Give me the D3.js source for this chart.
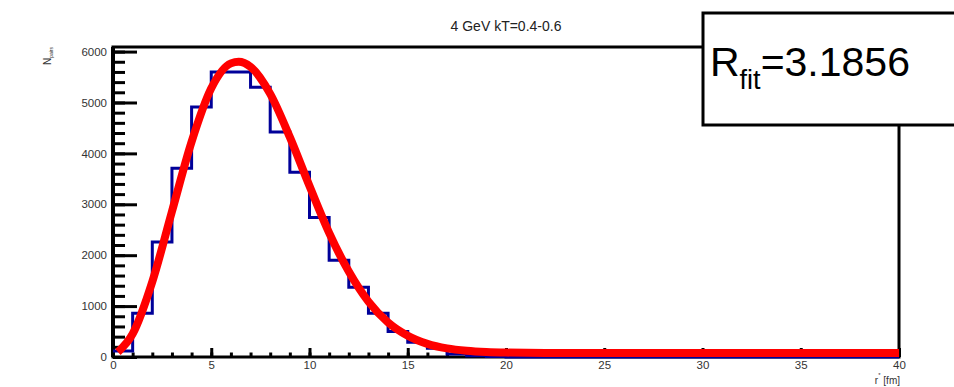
<!doctype html>
<html lang="en">
<head>
  <meta charset="UTF-8">
  <title>4 GeV kT=0.4-0.6</title>
  <style type="text/css">
    body { margin: 0; background: #fff; }
    svg { display: block; font-family: "Liberation Sans", Arial, sans-serif; }
  </style>
  <script src="https://cdn.jsdelivr.net/npm/d3@7/dist/d3.min.js"></script>
</head>
<body>
  <div id="container"></div>
  <script>
    // histogram: bin edges 0..40 fm, 1 fm wide
    var binEdges = d3.range(0, 41);
    var counts = [120, 860, 2260, 3710, 4910, 5600, 5600, 5300, 4420, 3630,
      2740, 1900, 1370, 860, 500, 290, 170, 60, 25, 10,
      0, 0, 0, 0, 0, 0, 0, 0, 0, 0,
      0, 0, 0, 0, 0, 0, 0, 0, 0, 0];
    // fit curve
    var fitR = [0.25, 1, 2, 3, 4, 5, 6, 6.4, 7, 8, 9, 10, 11, 12, 13, 14, 15, 16, 17, 18, 19, 20, 22, 25, 30, 35, 40];
    var fitN = [20, 375, 1400, 2780, 4150, 5200, 5690, 5720, 5620, 5090, 4240, 3280, 2360, 1600, 1010, 600, 340, 180, 90, 43, 19, 8, 1, 0, 0, 0, 0];
    var xTicks = [0, 5, 10, 15, 20, 25, 30, 35, 40];
    var yTicks = [0, 1000, 2000, 3000, 4000, 5000, 6000];
    var title = "4 GeV kT=0.4-0.6";
    var fitValue = "3.1856";

    var width = 954, height = 387,
      margin = { left: 113, top: 47, right: 55, bottom: 30 },
      g_width = width - margin.left - margin.right,
      g_height = height - margin.top - margin.bottom;

    var svg = d3.select('#container').append('svg').attr('width', width).attr('height', height);
    var g = svg.append('g').attr('transform', 'translate(' + margin.left + ',' + margin.top + ')');

    var x = d3.scaleLinear().domain([0, 40]).range([0, g_width]);
    var y = d3.scaleLinear().domain([0, 6090]).range([g_height, 0]);

    // minor ticks
    g.append('g').attr('class', 'minor')
      .call(d3.axisLeft(y).tickValues(d3.range(0, 6001, 200)).tickSize(-12).tickFormat(''));
    g.append('g').attr('class', 'minor')
      .attr('transform', 'translate(0,' + g_height + ')')
      .call(d3.axisBottom(x).tickValues(d3.range(0, 41, 1)).tickSize(-4.5).tickFormat(''));
    // major ticks
    g.append('g').attr('class', 'major ya')
      .call(d3.axisLeft(y).tickValues(yTicks).tickSize(-24).tickPadding(6).tickFormat(d3.format('d')));
    g.append('g').attr('class', 'major xa')
      .attr('transform', 'translate(0,' + g_height + ')')
      .call(d3.axisBottom(x).tickValues(xTicks).tickSize(-9).tickPadding(4).tickFormat(d3.format('d')));

    g.selectAll('.minor line, .major line').attr('stroke', '#000').attr('stroke-width', 3);
    g.selectAll('.domain').remove();
    g.selectAll('.major text').attr('font-size', 11.5).attr('fill', '#333')
      .attr('font-family', '"Liberation Sans", Arial, sans-serif');
    g.selectAll('.xa text').attr('dy', '0.71em');

    // frame
    g.append('rect').attr('x', 0).attr('y', 0).attr('width', g_width).attr('height', g_height)
      .attr('fill', 'none').attr('stroke', '#000').attr('stroke-width', 3);
    g.append('line').attr('x1', 0).attr('x2', 0).attr('y1', 0).attr('y2', g_height)
      .attr('stroke', '#000').attr('stroke-width', 4);

    // histogram outline
    var step = [];
    counts.forEach(function (c, i) {
      step.push([binEdges[i], c]);
      step.push([binEdges[i + 1], c]);
    });
    var histLine = d3.line().x(function (d) { return x(d[0]); }).y(function (d) { return y(d[1]); });
    g.append('path').attr('d', histLine(step))
      .attr('fill', 'none').attr('stroke', '#000099').attr('stroke-width', 3);

    // fit curve
    var fitLine = d3.line()
      .x(function (d, i) { return x(fitR[i]); })
      .y(function (d) { return y(d) - 4; })
      .curve(d3.curveMonotoneX);
    g.append('path').attr('d', fitLine(fitN))
      .attr('fill', 'none').attr('stroke', '#ff0000').attr('stroke-width', 8)
      .attr('stroke-linecap', 'butt').attr('stroke-linejoin', 'round');

    // title
    svg.append('text').attr('x', 506).attr('y', 31).attr('text-anchor', 'middle')
      .attr('font-size', 14).attr('fill', '#222').text(title);

    // axis titles
    var yl = svg.append('text').attr('transform', 'translate(51,47) rotate(-90)')
      .attr('text-anchor', 'end').attr('font-size', 10).attr('fill', '#333');
    yl.append('tspan').text('N');
    yl.append('tspan').attr('font-size', 5).attr('dy', 2).text('pairs');

    var xl = svg.append('text').attr('x', 900).attr('y', 384).attr('text-anchor', 'end')
      .attr('font-size', 10).attr('fill', '#333');
    xl.append('tspan').text('r');
    xl.append('tspan').attr('font-size', 6).attr('dy', -7).text('*');
    xl.append('tspan').attr('dy', 7).text(' [fm]');

    // fit result box
    svg.append('rect').attr('x', 703).attr('y', 13).attr('width', 270).attr('height', 112)
      .attr('fill', '#fff').attr('stroke', '#000').attr('stroke-width', 3);
    var ft = svg.append('text').attr('x', 710).attr('y', 76).attr('font-size', 41).attr('fill', '#000');
    ft.append('tspan').text('R');
    ft.append('tspan').attr('font-size', 27).attr('dy', 13).text('fit');
    ft.append('tspan').attr('dy', -13).text('=' + fitValue);
  </script>
</body>
</html>
